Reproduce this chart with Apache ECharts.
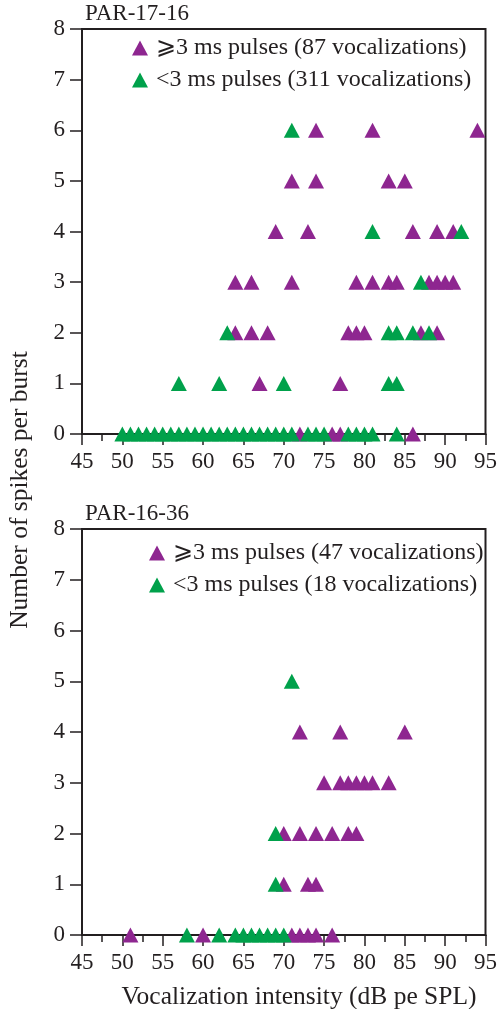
<!DOCTYPE html>
<html><head><meta charset="utf-8">
<script src="https://cdn.jsdelivr.net/npm/echarts@6/dist/echarts.min.js"></script>
<style>html,body{margin:0;padding:0;background:#fff}#c{width:500px;height:1009px}</style>
</head><body><div id="c"></div>
<script>
const xTicks = [45,50,55,60,65,70,75,80,85,90,95];
const yTicks = [0,1,2,3,4,5,6,7,8];
const panelTitles = ['PAR-17-16','PAR-16-36'];
const seriesNames = [
  ['⩾3 ms pulses (87 vocalizations)','<3 ms pulses (311 vocalizations)'],
  ['⩾3 ms pulses (47 vocalizations)','<3 ms pulses (18 vocalizations)']
];
// Top panel (PAR-17-16)
const topLong = [
  [74,6],[81,6],[94,6],
  [71,5],[74,5],[83,5],[85,5],
  [69,4],[73,4],[86,4],[89,4],[91,4],
  [64,3],[66,3],[71,3],[79,3],[81,3],[83,3],[84,3],[88,3],[89,3],[90,3],[91,3],
  [64,2],[66,2],[68,2],[78,2],[79,2],[80,2],[87,2],[89,2],
  [67,1],[77,1],
  [72,0],[76,0],[77,0],[86,0]
];
const topShort = [
  [71,6],
  [81,4],[92,4],
  [87,3],
  [63,2],[83,2],[84,2],[86,2],[88,2],
  [57,1],[62,1],[70,1],[83,1],[84,1],
  [50,0],[51,0],[52,0],[53,0],[54,0],[55,0],[56,0],[57,0],[58,0],[59,0],[60,0],
  [61,0],[62,0],[63,0],[64,0],[65,0],[66,0],[67,0],[68,0],[69,0],[70,0],[71,0],
  [73,0],[74,0],[75,0],[78,0],[79,0],[80,0],[81,0],[84,0]
];
// Bottom panel (PAR-16-36)
const botLong = [
  [72,4],[77,4],[85,4],
  [75,3],[77,3],[78,3],[79,3],[80,3],[81,3],[83,3],
  [70,2],[72,2],[74,2],[76,2],[78,2],[79,2],
  [70,1],[73,1],[74,1],
  [51,0],[60,0],[71,0],[72,0],[73,0],[74,0],[76,0]
];
const botShort = [
  [71,5],
  [69,2],
  [69,1],
  [58,0],[62,0],[64,0],[65,0],[66,0],[67,0],[68,0],[69,0],[70,0]
];

const PURPLE = '#8e2690';
const GREEN = '#00a14b';
const INK = '#231f20';
const FONT = '"Liberation Serif","DejaVu Serif",serif';
const tri = 'path://M0,15L8,0L16,15Z';

function xAxisCfg(gi){
  return {
    gridIndex: gi, type:'value', min:45, max:95, interval:5,
    axisLine:{show:true, onZero:false, lineStyle:{color:INK,width:2}},
    axisTick:{show:true, length:11, lineStyle:{color:INK,width:1.5}},
    minorTick:{show:true, splitNumber:2, length:7, lineStyle:{color:INK,width:1.5}},
    splitLine:{show:false},
    axisLabel:{color:INK, fontFamily:FONT, fontSize:23, margin:16, showMinLabel:true, showMaxLabel:true}
  };
}
function yAxisCfg(gi){
  return {
    gridIndex: gi, type:'value', min:0, max:8, interval:1,
    axisLine:{show:true, lineStyle:{color:INK,width:2}},
    axisTick:{show:true, length:12, lineStyle:{color:INK,width:1.5}},
    splitLine:{show:false},
    axisLabel:{color:INK, fontFamily:FONT, fontSize:23, margin:17}
  };
}
function sc(name, data, color, gi){
  return {
    name, type:'scatter', xAxisIndex:gi, yAxisIndex:gi, data,
    symbol: tri, symbolSize:[16,15],
    itemStyle:{color, opacity:1}, z: color===GREEN?3:2, silent:true
  };
}

const chart = echarts.init(document.getElementById('c'), null, {renderer:'canvas'});
chart.setOption({
  animation:false,
  backgroundColor:'#fff',
  grid:[
    {left:82, top:29, width:407, height:405, show:true, borderColor:INK, borderWidth:2, backgroundColor:'transparent'},
    {left:82, top:529, width:407, height:406, show:true, borderColor:INK, borderWidth:2, backgroundColor:'transparent'}
  ],
  title:[
    {text:panelTitles[0], left:85, top:2, padding:0, textStyle:{color:INK, fontFamily:FONT, fontSize:23, fontWeight:'normal'}},
    {text:panelTitles[1], left:85, top:502, padding:0, textStyle:{color:INK, fontFamily:FONT, fontSize:23, fontWeight:'normal'}}
  ],
  legend:[
    {data:seriesNames[0], left:132, top:36, orient:'vertical', itemWidth:16, itemHeight:15, itemGap:8, padding:0,
     icon:tri, textStyle:{color:INK, fontFamily:FONT, fontSize:24, padding:[0,0,0,3]}},
    {data:seriesNames[1], left:149, top:541, orient:'vertical', itemWidth:16, itemHeight:15, itemGap:8, padding:0,
     icon:tri, textStyle:{color:INK, fontFamily:FONT, fontSize:24, padding:[0,0,0,3]}}
  ],
  xAxis:[xAxisCfg(0), xAxisCfg(1)],
  yAxis:[yAxisCfg(0), yAxisCfg(1)],
  series:[
    sc(seriesNames[0][0], topLong, PURPLE, 0),
    sc(seriesNames[0][1], topShort, GREEN, 0),
    sc(seriesNames[1][0], botLong, PURPLE, 1),
    sc(seriesNames[1][1], botShort, GREEN, 1)
  ],
  graphic:[
    {type:'text', x:20, y:490, rotation:Math.PI/2, style:{text:'Number of spikes per burst', fill:INK, font:'25.5px '+FONT, textAlign:'center', textVerticalAlign:'middle'}},
    {type:'text', x:299, y:997, style:{text:'Vocalization intensity (dB pe SPL)', fill:INK, font:'25.5px '+FONT, textAlign:'center', textVerticalAlign:'middle'}}
  ]
});
</script></body></html>
